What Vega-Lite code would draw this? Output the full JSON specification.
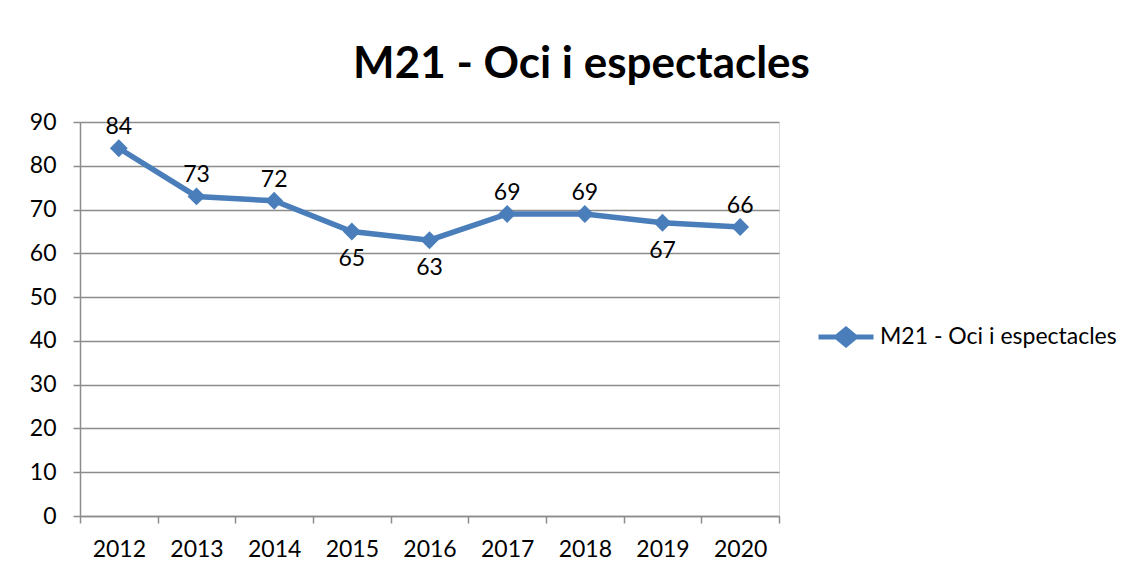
{
  "$schema": "https://vega.github.io/schema/vega-lite/v6.json",
  "width": 699,
  "height": 394,
  "autosize": {"type": "none"},
  "padding": {"left": 80, "top": 122, "right": 360, "bottom": 63},
  "background": "white",
  "title": {
    "text": "M21 - Oci i espectacles",
    "font": "Lato",
    "fontSize": 44,
    "fontWeight": "bold",
    "color": "#000000",
    "anchor": "middle",
    "frame": "group",
    "dx": 152,
    "dy": 56,
    "baseline": "alphabetic",
    "offset": 45
  },
  "data": {
    "values": [
      {"year": "2012", "value": 84, "serie": "M21 - Oci i espectacles"},
      {"year": "2013", "value": 73, "serie": "M21 - Oci i espectacles"},
      {"year": "2014", "value": 72, "serie": "M21 - Oci i espectacles"},
      {"year": "2015", "value": 65, "serie": "M21 - Oci i espectacles"},
      {"year": "2016", "value": 63, "serie": "M21 - Oci i espectacles"},
      {"year": "2017", "value": 69, "serie": "M21 - Oci i espectacles"},
      {"year": "2018", "value": 69, "serie": "M21 - Oci i espectacles"},
      {"year": "2019", "value": 67, "serie": "M21 - Oci i espectacles"},
      {"year": "2020", "value": 66, "serie": "M21 - Oci i espectacles"}
    ]
  },
  "encoding": {
    "x": {
      "field": "year",
      "type": "ordinal",
      "scale": {"type": "band", "paddingInner": 0, "paddingOuter": 0},
      "axis": {
        "title": null,
        "labelAngle": 0,
        "labelFont": "Lato",
        "labelFontSize": 23,
        "labelColor": "#000000",
        "labelPadding": 15,
        "domainColor": "#8c8c8c",
        "domainWidth": 1.5,
        "tickColor": "#8c8c8c",
        "tickWidth": 1.5,
        "tickSize": 7,
        "tickBand": "extent",
        "grid": false
      }
    },
    "y": {
      "field": "value",
      "type": "quantitative",
      "scale": {"domain": [0, 90]},
      "axis": {
        "title": null,
        "values": [0, 10, 20, 30, 40, 50, 60, 70, 80, 90],
        "labelFont": "Lato",
        "labelFontSize": 23,
        "labelColor": "#000000",
        "labelPadding": 17,
        "domainColor": "#8c8c8c",
        "domainWidth": 1.5,
        "tickColor": "#8c8c8c",
        "tickWidth": 1.5,
        "tickSize": 7,
        "gridColor": "#8c8c8c",
        "gridWidth": 1.5
      }
    }
  },
  "layer": [
    {
      "mark": {"type": "line", "strokeWidth": 5.5, "color": "#4A7EBB"},
      "encoding": {
        "color": {
          "field": "serie",
          "type": "nominal",
          "scale": {"range": ["#4A7EBB"]},
          "legend": {
            "title": null,
            "orient": "none",
            "legendX": 736,
            "legendY": 185,
            "symbolType": "M -1 0 L 1 0 M 0 -0.28 L 0.34 0 L 0 0.28 L -0.34 0 Z",
            "symbolSize": 3025,
            "symbolStrokeWidth": 5,
            "symbolFillColor": "#4A7EBB",
            "symbolStrokeColor": "#4A7EBB",
            "labelFont": "Lato",
            "labelFontSize": 23,
            "labelLimit": 0,
            "labelColor": "#000000",
            "labelOffset": 4
          }
        }
      }
    },
    {
      "mark": {"type": "point", "shape": "diamond", "filled": true, "size": 320, "color": "#4A7EBB", "opacity": 1}
    },
    {
      "transform": [{"filter": {"field": "year", "oneOf": ["2012", "2013", "2014", "2017", "2018", "2020"]}}],
      "mark": {"type": "text", "font": "Lato", "fontSize": 23, "color": "#000000", "baseline": "middle", "dy": -21},
      "encoding": {"text": {"field": "value", "type": "quantitative"}}
    },
    {
      "transform": [{"filter": {"field": "year", "oneOf": ["2015", "2016", "2019"]}}],
      "mark": {"type": "text", "font": "Lato", "fontSize": 23, "color": "#000000", "baseline": "middle", "dy": 28},
      "encoding": {"text": {"field": "value", "type": "quantitative"}}
    }
  ]
}
